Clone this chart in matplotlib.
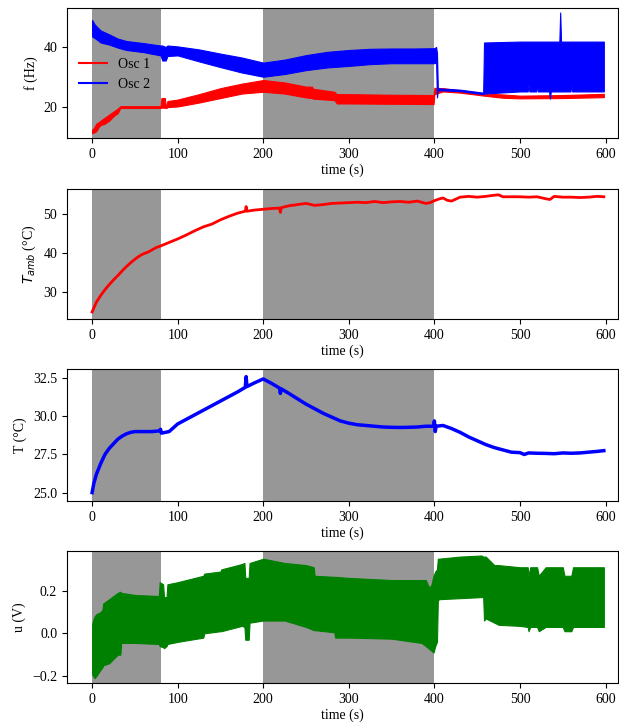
import matplotlib
matplotlib.use('Agg')
import matplotlib.pyplot as plt
from matplotlib.lines import Line2D

plt.rcParams['font.family'] = ['Liberation Serif', 'DejaVu Serif']
plt.rcParams['font.size'] = 10

# heating phases (shaded)
phases = [(0, 80), (200, 400)]

# Osc 1 frequency band (lower / upper envelope), Hz
t_osc1 = [0, 2, 5, 8, 10, 15, 20, 25, 30, 33, 34, 80, 81, 85, 86, 87, 88, 100, 125, 150, 175,
          200, 225, 250, 257, 258, 283, 286, 300, 350, 399, 400, 410, 430, 458, 480, 500, 550, 598]
osc1_hi = [12.5, 13, 14.5, 15, 15.5, 16.5, 17.5, 18.5, 19.5, 20.3, 20.3, 20.3, 23, 23, 20.5, 20.5, 22, 22.5, 24.3, 26.3, 27.8,
           29, 28.2, 26.8, 26.8, 26.1, 25.1, 24.3, 24.3, 24.1, 24.0, 26.4, 26.3, 25.6, 24.5, 24.2, 23.8, 24, 24.4]
osc1_lo = [11.3, 11.5, 12, 13.5, 14, 14.5, 15.5, 17, 18, 19.7, 19.7, 19.7, 19.8, 19.8, 19.7, 19.7, 20, 20.2, 21.5, 23, 24.5,
           25.1, 24.5, 23.2, 23.0, 22.8, 22.3, 21.2, 21.2, 21.1, 21.0, 24.3, 25.2, 24.8, 23.8, 23.1, 22.9, 23, 23.3]

# Osc 2 frequency band, Hz
t_osc2 = [0, 3, 10, 20, 30, 40, 60, 80, 82, 86, 88, 100, 125, 150, 175, 200, 225, 250, 275, 300, 325, 350,
          375, 400, 402, 403, 404, 405, 406, 430, 457, 458, 500, 509, 510, 511, 519, 520, 521, 534, 535, 536,
          546, 547, 548, 559, 560, 561, 598]
osc2_hi = [49, 47.5, 45.5, 44.2, 42.8, 42, 41.3, 40.5, 40.5, 40, 40.5, 40.2, 39.2, 37.8, 36.5, 34.8, 35.8, 37.3, 38.4, 39, 39.4, 39.5,
           39.5, 39.6, 40, 38, 26.3, 26.3, 26.2, 25.8, 24.8, 41.5, 41.8, 41.8, 41.8, 41.8, 41.8, 41.8, 41.8, 41.8, 41.8, 41.8,
           41.8, 51.5, 41.8, 41.8, 41.8, 41.8, 41.8]
osc2_lo = [43.5, 43, 41.5, 40.8, 39.8, 39, 38.3, 37.2, 35.5, 35.5, 37, 37.2, 35.2, 33.3, 31.5, 30.1, 31, 32.3, 33.2, 33.7, 34.3, 34.6,
           34.6, 34.6, 35, 23.2, 25.6, 25.5, 25.6, 25.3, 24.3, 24.5, 25.2, 25.2, 27.5, 25.2, 25.2, 27.5, 25.2, 25.2, 22.8, 25.2,
           25.2, 25.2, 25.2, 25.2, 27.5, 25.2, 25.2]

# ambient temperature, degC
t_amb = [0, 5, 10, 15, 20, 25, 30, 35, 40, 45, 50, 55, 60, 65, 70, 75, 80, 90, 100, 110, 120, 130, 140, 150, 160,
         170, 179, 180, 181, 190, 200, 210, 219, 220, 221, 230, 240, 250, 260, 270, 280, 290, 300, 310, 320, 330,
         340, 350, 360, 370, 380, 390, 395, 400, 405, 410, 415, 420, 430, 440, 450, 460, 470, 475, 480, 490, 500,
         510, 520, 530, 535, 540, 550, 560, 570, 580, 590, 598]
T_amb = [25, 27.5, 29.2, 30.7, 32, 33.2, 34.3, 35.5, 36.6, 37.6, 38.5, 39.3, 39.9, 40.3, 40.9, 41.5, 41.9, 42.8, 43.7,
         44.7, 45.8, 46.8, 47.5, 48.6, 49.5, 50.3, 50.8, 52, 50.8, 51.1, 51.3, 51.5, 51.6, 50.5, 51.7, 52.2, 52.5, 52.8,
         52.3, 52.5, 52.8, 52.9, 53.0, 53.1, 53.0, 53.3, 53.0, 53.2, 53.3, 53.1, 53.4, 52.8, 53.0, 53.5, 53.9, 54.2,
         53.6, 53.4, 54.4, 54.6, 54.4, 54.6, 54.9, 55.0, 54.5, 54.5, 54.5, 54.4, 54.5, 54.0, 53.8, 54.6, 54.4, 54.4,
         54.3, 54.4, 54.6, 54.5]

# oscillator temperature, degC
t_T = [0, 2, 5, 10, 15, 20, 25, 30, 35, 40, 45, 50, 60, 70, 79, 80, 81, 90, 100, 110, 120, 130, 140, 150, 160, 170,
       179, 180, 181, 190, 200, 210, 219, 220, 221, 230, 240, 250, 260, 270, 280, 290, 300, 310, 320, 330, 340, 350,
       360, 370, 380, 390, 399, 400, 401, 402, 410, 420, 430, 440, 450, 460, 470, 480, 490, 500, 505, 510, 520, 530,
       540, 550, 560, 570, 580, 590, 598]
T = [25.0, 25.6, 26.2, 26.9, 27.5, 27.9, 28.2, 28.5, 28.7, 28.85, 28.95, 29.0, 29.0, 29.0, 29.05, 29.15, 28.9, 29.0,
     29.5, 29.8, 30.1, 30.4, 30.7, 31.0, 31.3, 31.6, 31.9, 32.6, 31.95, 32.2, 32.45, 32.15, 31.85, 31.5, 31.8, 31.5,
     31.15, 30.8, 30.5, 30.2, 29.95, 29.7, 29.55, 29.45, 29.4, 29.35, 29.3, 29.28, 29.27, 29.28, 29.3, 29.35, 29.35,
     29.7, 29.0, 29.35, 29.4, 29.2, 28.95, 28.65, 28.4, 28.15, 27.95, 27.8, 27.65, 27.62, 27.5, 27.6, 27.58, 27.57,
     27.55, 27.6, 27.58, 27.6, 27.65, 27.7, 27.75]

# control signal band, V
t_u = [0, 1, 3, 5, 10, 12, 13, 20, 30, 33, 34, 50, 78, 79, 83, 84, 87, 88, 100, 130, 131, 150, 151, 175, 178, 179,
       183, 184, 200, 225, 250, 259, 260, 283, 284, 300, 350, 385, 390, 393, 396, 399, 401, 403, 404, 405, 430, 455,
       457, 458, 460, 470, 475, 500, 509, 510, 512, 520, 522, 530, 532, 550, 552, 560, 562, 598]
u_hi = [0.04, 0.06, 0.08, 0.09, 0.10, 0.11, 0.14, 0.16, 0.19, 0.195, 0.19, 0.18, 0.175, 0.24, 0.23, 0.17, 0.17, 0.23,
        0.24, 0.27, 0.28, 0.29, 0.30, 0.325, 0.33, 0.26, 0.26, 0.33, 0.35, 0.33, 0.32, 0.31, 0.27, 0.265, 0.265, 0.26,
        0.25, 0.25, 0.25, 0.22, 0.22, 0.27, 0.29, 0.30, 0.35, 0.35, 0.36, 0.365, 0.36, 0.36, 0.36, 0.32, 0.32, 0.31,
        0.31, 0.27, 0.31, 0.31, 0.27, 0.31, 0.31, 0.31, 0.27, 0.27, 0.31, 0.31]
u_lo = [-0.19, -0.2, -0.21, -0.2, -0.17, -0.16, -0.15, -0.14, -0.10, -0.10, -0.045, -0.045, -0.05, -0.06, -0.065,
        -0.07, -0.06, -0.05, -0.04, -0.02, 0.0, 0.01, 0.01, 0.035, 0.03, -0.03, -0.03, 0.05, 0.06, 0.06, 0.03, 0.015,
        0.015, 0.005, -0.02, -0.02, -0.025, -0.045, -0.06, -0.07, -0.08, -0.09, -0.06, -0.04, 0.15, 0.16, 0.165, 0.17,
        0.17, 0.06, 0.07, 0.05, 0.04, 0.035, 0.03, 0.01, 0.03, 0.03, 0.01, 0.03, 0.03, 0.03, 0.01, 0.01, 0.03, 0.03]

fig = plt.figure(figsize=(6.19, 7.24), dpi=100)
left, width = 0.108, 0.891
bottoms = [0.8094, 0.5594, 0.308, 0.0566]
heights = [0.1796, 0.1796, 0.1823, 0.1823]
axes = [fig.add_axes([left, b, width, h]) for b, h in zip(bottoms, heights)]

for ax in axes:
    for a, b in phases:
        ax.axvspan(a, b, color='#979797', lw=0, zorder=0)
    ax.set_xlim(-29.5, 615)
    ax.set_xticks([0, 100, 200, 300, 400, 500, 600])
    ax.set_xlabel('time (s)', labelpad=2)

# panel 1: frequencies
ax = axes[0]
ax.fill_between(t_osc1, osc1_lo, osc1_hi, color='red', lw=0.8)
ax.fill_between(t_osc2, osc2_lo, osc2_hi, color='blue', lw=0.8)
ax.set_ylim(9.7, 53)
ax.set_yticks([20, 40])
ax.set_ylabel('f (Hz)')
handles = [Line2D([], [], color='red', lw=1.5), Line2D([], [], color='blue', lw=1.5)]
ax.legend(handles, ['Osc 1', 'Osc 2'], loc='center left', bbox_to_anchor=(0.0, 0.49), frameon=False)

# panel 2: ambient temperature
ax = axes[1]
ax.plot(t_amb, T_amb, color='red', lw=2)
ax.set_ylim(23.2, 56.5)
ax.set_yticks([30, 40, 50])
ax.set_ylabel(r'$T_{amb}$ (°C)')

# panel 3: oscillator temperature
ax = axes[2]
ax.plot(t_T, T, color='blue', lw=2.5)
ax.set_ylim(24.45, 33.1)
ax.set_yticks([25.0, 27.5, 30.0, 32.5])
ax.set_ylabel('T (°C)')

# panel 4: control signal
ax = axes[3]
ax.fill_between(t_u, u_lo, u_hi, color='green', lw=0.8)
ax.set_ylim(-0.233, 0.386)
ax.set_yticks([-0.2, 0.0, 0.2])
ax.set_ylabel('u (V)')

fig.savefig('out.png', dpi=100)
